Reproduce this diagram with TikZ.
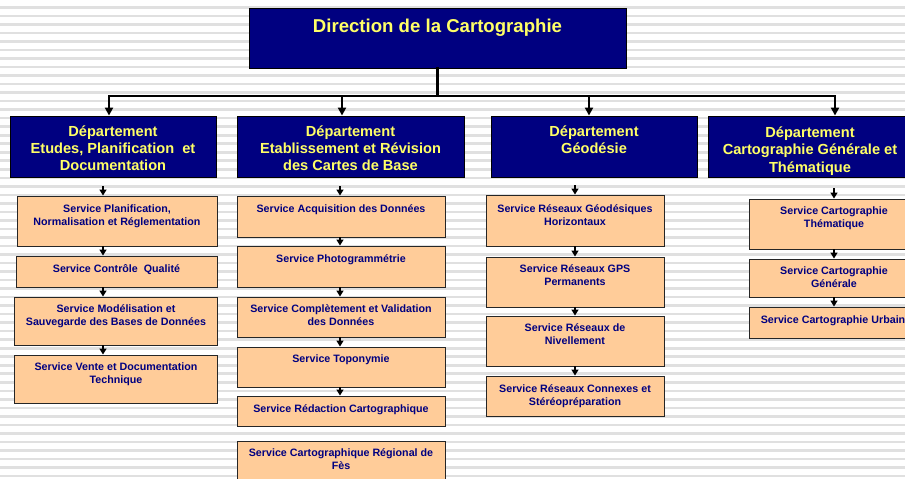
\documentclass[tikz,border=0pt]{standalone}
\usepackage{fontspec}
\setmainfont{Liberation Sans}
\usetikzlibrary{arrows.meta}

\definecolor{navy}{RGB}{0,0,128}
\definecolor{peach}{RGB}{255,204,153}
\definecolor{lemon}{RGB}{255,255,102}
\definecolor{stripe}{RGB}{224,224,224}

\tikzset{
  titlebox/.style={draw=black, fill=navy, line width=0.9pt, inner sep=0pt},
  deptbox/.style={draw=black, fill=navy, line width=0.9pt, inner sep=0pt},
  svcbox/.style={draw=black!85, fill=peach, line width=0.9pt, inner sep=0pt},
  titletxt/.style={text=lemon, font=\fontsize{18.6}{22}\selectfont\bfseries, inner sep=0pt, anchor=base},
  depttxt/.style={text=lemon, font=\fontsize{14.6}{17.3}\selectfont\bfseries, align=center, inner sep=0pt, anchor=base},
  svctxt/.style={text=navy, font=\fontsize{10.7}{13}\selectfont\bfseries, align=center, inner sep=0pt, anchor=base},
  bus/.style={line width=2.6pt, line cap=rect},
  busarrow/.style={line width=2.4pt, -{Triangle[length=8pt,width=8pt]}},
  flow/.style={line width=1.4pt, -{Triangle[length=6pt,width=7pt]}}
}

\begin{document}
\begin{tikzpicture}[x=1pt,y=-1pt]
\useasboundingbox (0,0) rectangle (905,479);
\clip (0,0) rectangle (905,479);

% striped background
\fill[white] (0,0) rectangle (905,479);
\foreach \i in {0,...,56}
  \fill[stripe] (0,{6.1+8.52*\i}) rectangle (905,{8.7+8.52*\i});

% direction
\node[titlebox, minimum width=377pt, minimum height=60pt] (top) at (437.5,38) {};
\node[titletxt] (topt) at (437.5,32.3) {Direction de la Cartographie};

% departements
\node[deptbox, minimum width=206pt, minimum height=61pt] (d1) at (113,146.5) {};
\node[deptbox, minimum width=227pt, minimum height=61pt] (d2) at (350.5,146.5) {};
\node[deptbox, minimum width=206pt, minimum height=61pt] (d3) at (594,146.5) {};
\node[deptbox, minimum width=204pt, minimum height=61pt] (d4) at (810,146.5) {};

% (base = derniere ligne)
\node[depttxt] (d1t) at (113,170.6) {Département\\Etudes, Planification \ et\\Documentation};
\node[depttxt] (d2t) at (350.5,170.6) {Département\\Etablissement et Révision\\des Cartes de Base};
\node[depttxt] (d3t) at (594,153.6) {Département\\Géodésie};
\node[depttxt] (d4t) at (810,172) {Département\\Cartographie Générale et\\Thématique};

% bus
\coordinate (b1) at (109,96);
\coordinate (b2) at (342,96);
\coordinate (b3) at (589,96);
\coordinate (b4) at (835,96);
\draw[bus] (top.south) -- (top.south |- b1);
\draw[bus] (b1) -- (b4);
\draw[busarrow] (b1) -- (b1 |- d1.north);
\draw[busarrow] (b2) -- (b2 |- d2.north);
\draw[busarrow] (b3) -- (b3 |- d3.north);
\draw[busarrow] (b4) -- (b4 |- d4.north);

% services etudes
\node[svcbox, minimum width=200pt, minimum height=50pt] (p1) at (117,221) {};
\node[svcbox, minimum width=201pt, minimum height=31pt] (p2) at (116.5,271.5) {};
\node[svcbox, minimum width=203pt, minimum height=48pt] (p3) at (115.5,321) {};
\node[svcbox, minimum width=203pt, minimum height=48pt] (p4) at (115.5,379) {};
\node[svctxt] (p1t) at (117,225) {Service Planification,\\Normalisation et Réglementation};
\node[svctxt] (p2t) at (116.5,272) {Service Contrôle \ Qualité};
\node[svctxt] (p3t) at (116,325.7) {Service Modélisation et\\Sauvegarde des Bases de Données};
\node[svctxt] (p4t) at (116,383) {Service Vente et Documentation\\Technique};

% services etablissement
\node[svcbox, minimum width=208pt, minimum height=41pt] (e1) at (341,216.5) {};
\node[svcbox, minimum width=208pt, minimum height=41pt] (e2) at (341,266.5) {};
\node[svcbox, minimum width=208pt, minimum height=40pt] (e3) at (341,317) {};
\node[svcbox, minimum width=208pt, minimum height=40pt] (e4) at (341,367) {};
\node[svcbox, minimum width=208pt, minimum height=30pt] (e5) at (341,411) {};
\node[svcbox, minimum width=208pt, minimum height=48pt] (e6) at (341,465) {};
\node[svctxt] (e1t) at (341,212) {Service Acquisition des Données};
\node[svctxt] (e2t) at (341,262) {Service Photogrammétrie};
\node[svctxt] (e3t) at (341,325) {Service Complètement et Validation\\des Données};
\node[svctxt] (e4t) at (341,362) {Service Toponymie};
\node[svctxt] (e5t) at (341,412) {Service Rédaction Cartographique};
\node[svctxt] (e6t) at (341,469) {Service Cartographique Régional de\\Fès};

% services geodesie
\node[svcbox, minimum width=178pt, minimum height=51pt] (g1) at (575,220.5) {};
\node[svcbox, minimum width=178pt, minimum height=50pt] (g2) at (575,282) {};
\node[svcbox, minimum width=178pt, minimum height=50pt] (g3) at (575,341) {};
\node[svcbox, minimum width=178pt, minimum height=40pt] (g4) at (575,396) {};
\node[svctxt] (g1t) at (575,225) {Service Réseaux Géodésiques\\Horizontaux};
\node[svctxt] (g2t) at (575,285) {Service Réseaux GPS\\Permanents};
\node[svctxt] (g3t) at (575,344.5) {Service Réseaux de\\Nivellement};
\node[svctxt] (g4t) at (575,405) {Service Réseaux Connexes et\\Stéréopréparation};

% services cartographie
\node[svcbox, minimum width=170pt, minimum height=50pt] (t1) at (834,224) {};
\node[svcbox, minimum width=170pt, minimum height=38pt] (t2) at (834,278) {};
\node[svcbox, minimum width=170pt, minimum height=31pt] (t3) at (834,322.5) {};
\node[svctxt] (t1t) at (834,227.5) {Service Cartographie\\Thématique};
\node[svctxt] (t2t) at (834,287) {Service Cartographie\\Générale};
\node[svctxt] (t3t) at (836,323) {Service Cartographie Urbaine};

% fleches
\coordinate (a1) at (103,186);
\coordinate (a2) at (340,186);
\coordinate (a3) at (575,185);
\coordinate (a4) at (834,188);
\draw[flow] (a1) -- (a1 |- p1.north);
\draw[flow] (p1.south -| a1) -- (p2.north -| a1);
\draw[flow] (p2.south -| a1) -- (p3.north -| a1);
\draw[flow] (p3.south -| a1) -- (p4.north -| a1);
\draw[flow] (a2) -- (a2 |- e1.north);
\draw[flow] (e1.south -| a2) -- (e2.north -| a2);
\draw[flow] (e2.south -| a2) -- (e3.north -| a2);
\draw[flow] (e3.south -| a2) -- (e4.north -| a2);
\draw[flow] (e4.south -| a2) -- (e5.north -| a2);
\draw[flow] (a3) -- (a3 |- g1.north);
\draw[flow] (g1.south -| a3) -- (g2.north -| a3);
\draw[flow] (g2.south -| a3) -- (g3.north -| a3);
\draw[flow] (g3.south -| a3) -- (g4.north -| a3);
\draw[flow] (a4) -- (a4 |- t1.north);
\draw[flow] (t1.south -| a4) -- (t2.north -| a4);
\draw[flow] (t2.south -| a4) -- (t3.north -| a4);
\end{tikzpicture}
\end{document}
